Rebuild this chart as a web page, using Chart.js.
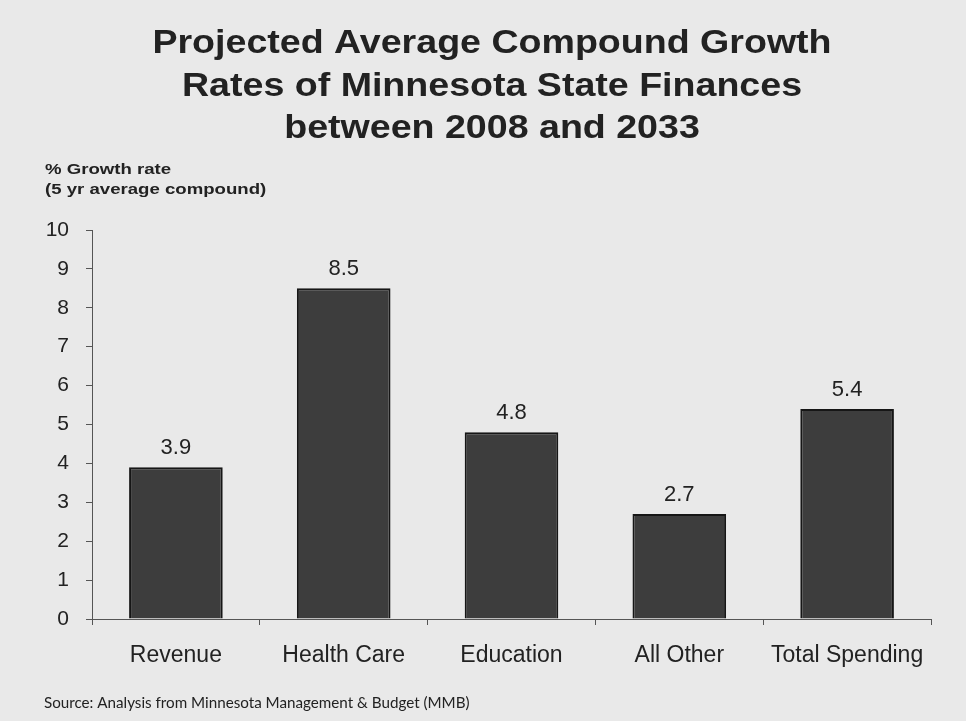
<!DOCTYPE html>
<html>
<head>
<meta charset="utf-8">
<script src="https://cdn.jsdelivr.net/npm/chart.js@4.4.1/dist/chart.umd.min.js"></script>
<style>
  html, body { margin: 0; padding: 0; background: #e9e9e9; }
  #wrap { width: 966px; height: 721px; position: relative; }
</style>
</head>
<body>
<div id="wrap"><canvas id="c" width="966" height="721"></canvas></div>
<script>
// Projected growth rates, % per year (5 yr average compound)
const categories = ['Revenue', 'Health Care', 'Education', 'All Other', 'Total Spending'];
const growthRates = [3.9, 8.5, 4.8, 2.7, 5.4];
const yTicks = [0, 1, 2, 3, 4, 5, 6, 7, 8, 9, 10];

const titleLines = [
  'Projected Average Compound Growth',
  'Rates of Minnesota State Finances',
  'between 2008 and 2033'
];
const axisCaption = ['% Growth rate', '(5 yr average compound)'];
const sourceNote = 'Source: Analysis from Minnesota Management & Budget (MMB)';

const INK = '#222222';
const SANS = 'Arial, "Liberation Sans", sans-serif';

// Draw text widened horizontally by factor sx, anchored at (x, y)
function wideText(ctx, text, x, y, sx, align) {
  ctx.save();
  ctx.translate(x, y);
  ctx.scale(sx, 1);
  ctx.textAlign = align;
  ctx.fillText(text, 0, 0);
  ctx.restore();
}

// Title, axis caption and source line drawn around the plot
const textPlugin = {
  id: 'pageText',
  afterDraw(chart) {
    const ctx = chart.ctx;
    ctx.save();
    ctx.fillStyle = INK;
    ctx.textBaseline = 'alphabetic';
    ctx.font = 'bold 34px ' + SANS;
    titleLines.forEach((t, i) => wideText(ctx, t, 492, 53 + i * 42.5, 1.105, 'center'));

    ctx.font = 'bold 15.5px ' + SANS;
    axisCaption.forEach((t, i) => wideText(ctx, t, 45, 174 + i * 20, 1.2, 'left'));

    ctx.textAlign = 'left';
    ctx.font = '15.2px Lato, "Open Sans", sans-serif';
    ctx.fillText(sourceNote, 44, 708);
    ctx.restore();
  }
};

// Value printed above each bar
const valueLabels = {
  id: 'valueLabels',
  afterDatasetsDraw(chart) {
    const ctx = chart.ctx;
    const meta = chart.getDatasetMeta(0);
    ctx.save();
    ctx.fillStyle = INK;
    ctx.font = '22px ' + SANS;
    ctx.textAlign = 'center';
    ctx.textBaseline = 'alphabetic';
    meta.data.forEach((bar, i) => {
      ctx.fillText(growthRates[i].toFixed(1), bar.x, bar.y - 13);
    });
    ctx.restore();
  }
};

new Chart(document.getElementById('c'), {
  type: 'bar',
  data: {
    labels: categories,
    datasets: [{
      data: growthRates,
      backgroundColor: '#3d3d3d',
      borderColor: '#161616',
      borderWidth: 2,
      barPercentage: 0.62,
      categoryPercentage: 0.9
    }]
  },
  options: {
    responsive: false,
    animation: false,
    layout: { padding: { top: 230, right: 35, bottom: 42, left: 0 } },
    plugins: { legend: { display: false }, tooltip: { enabled: false } },
    scales: {
      x: {
        grid: { drawOnChartArea: false, drawTicks: true, tickLength: 6, color: '#555' },
        border: { display: true, color: '#555', width: 1 },
        ticks: { color: INK, font: { size: 23, family: SANS }, padding: 17 },
        afterFit(scale) { scale.height = 60; }
      },
      y: {
        min: 0,
        max: 10,
        afterBuildTicks(scale) { scale.ticks = yTicks.map(v => ({ value: v })); },
        grid: { drawOnChartArea: false, drawTicks: true, tickLength: 6, color: '#555' },
        border: { display: true, color: '#555', width: 1 },
        ticks: { color: INK, font: { size: 21, family: SANS }, padding: 17 },
        afterFit(scale) { scale.width = 92; }
      }
    }
  },
  plugins: [textPlugin, valueLabels]
});
</script>
</body>
</html>
